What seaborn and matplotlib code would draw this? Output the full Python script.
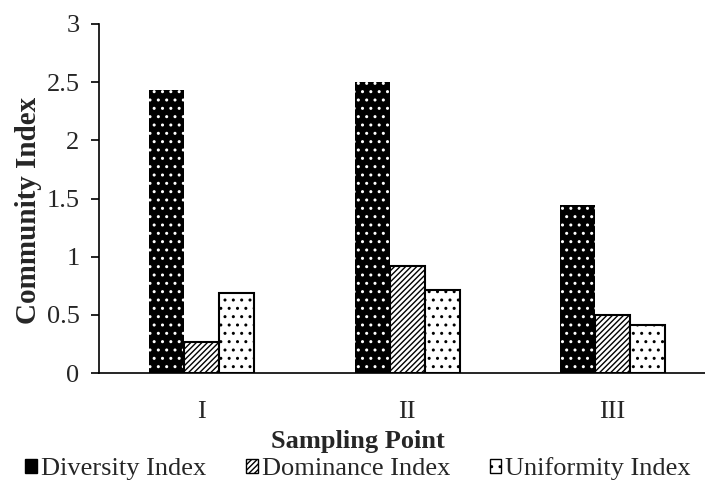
import matplotlib
matplotlib.use("Agg")
import matplotlib.pyplot as plt
import seaborn as sns
import pandas as pd
from matplotlib.patches import Patch

points = ["I", "II", "III"]
diversity = [2.43, 2.50, 1.44]
dominance = [0.27, 0.92, 0.50]
uniformity = [0.69, 0.71, 0.41]
series = ["Diversity Index", "Dominance Index", "Uniformity Index"]

df = pd.DataFrame({
    "point": points * 3,
    "value": diversity + dominance + uniformity,
    "index": [s for s in series for _ in points],
})

sns.set_style("white")
plt.rcParams["font.family"] = ["Liberation Serif", "DejaVu Serif"]
plt.rcParams["hatch.linewidth"] = 1.0

fig = plt.figure(figsize=(7.05, 4.82), dpi=100)
ax = fig.add_axes([99 / 705, 109 / 482, 606 / 705, 349 / 482])

sns.barplot(data=df, x="point", y="value", hue="index", hue_order=series,
            order=points, width=0.51, ax=ax, legend=False, gap=0)

# black with white dots / white with diagonal lines / white with dots
styles = [
    dict(facecolor="black", edgecolor="white", hatch="..", linewidth=0),
    dict(facecolor="white", edgecolor="black", hatch="//////", linewidth=1.5),
    dict(facecolor="white", edgecolor="black", hatch="..", linewidth=1.5),
]
for cont, st in zip(ax.containers, styles):
    for bar in cont:
        bar.set_facecolor(st["facecolor"])
        bar.set_edgecolor(st["edgecolor"])
        bar.set_hatch(st["hatch"])
        bar.set_linewidth(st["linewidth"])

ax.set_xlim(-0.5, 2.45)
ax.set_ylim(0, 3)
ax.set_yticks([0, 0.5, 1, 1.5, 2, 2.5, 3])
ax.set_yticklabels(["0", "0.5", "1", "1.5", "2", "2.5", "3"])
sns.despine(ax=ax)
for s in ["left", "bottom"]:
    ax.spines[s].set_color("black")
    ax.spines[s].set_linewidth(1.2)
ax.tick_params(axis="y", length=6, width=1.2, color="black", labelsize=19, pad=8, left=True)
ax.tick_params(axis="x", length=0, labelsize=19, pad=20)

ax.set_ylabel("Community Index", fontsize=21, fontweight="bold", va="center")
ax.yaxis.set_label_coords(-0.117, 0.467)
ax.set_xlabel("Sampling Point", fontsize=19, fontweight="bold", va="center")
ax.xaxis.set_label_coords(0.428, -0.195)

handles = [Patch(facecolor=st["facecolor"], edgecolor="black",
                 hatch=st["hatch"] if i else None, linewidth=1.0, label=lab)
           for i, (st, lab) in enumerate(zip(styles, series))]
fig.legend(handles=handles, loc="center", bbox_to_anchor=(358 / 705, 1 - 469 / 482), ncol=3,
           frameon=False, fontsize=19, handlelength=0.45, handleheight=0.45,
           handletextpad=0.15, columnspacing=1.5, borderpad=0)

fig.savefig("out.png", dpi=100)
